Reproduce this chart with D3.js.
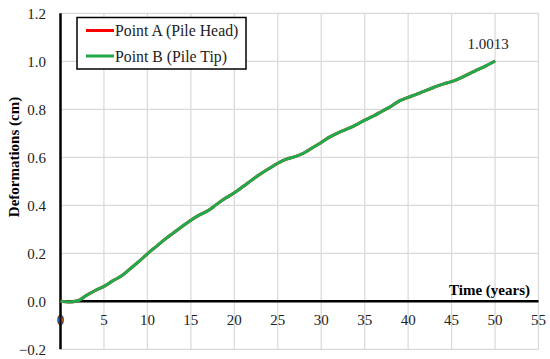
<!DOCTYPE html>
<html>
<head>
<meta charset="utf-8">
<script src="https://cdn.jsdelivr.net/npm/d3@7"></script>
<style>
  body { margin: 0; background: #fff; }
  svg text { font-family: "Liberation Serif", "Times New Roman", serif; }
</style>
</head>
<body>
<div id="chart"></div>
<script>
// Time in years
let years = d3.range(0, 51);

// Deformation (cm) - Point B (pile tip)
let pointB = [0, -0.003, 0.002, 0.025, 0.045, 0.062, 0.085, 0.105, 0.135, 0.165,
    0.198, 0.228, 0.258, 0.285, 0.312, 0.338, 0.36, 0.378, 0.405, 0.43,
    0.452, 0.478, 0.505, 0.53, 0.553, 0.575, 0.592, 0.603, 0.618, 0.64,
    0.662, 0.685, 0.703, 0.718, 0.735, 0.755, 0.772, 0.792, 0.812, 0.835,
    0.85, 0.863, 0.878, 0.892, 0.905, 0.915, 0.93, 0.948, 0.965, 0.982, 1.0013];

// Point A (pile head) sits right under Point B
let pointA = pointB.slice();

let xTicks = [0, 5, 10, 15, 20, 25, 30, 35, 40, 45, 50, 55];
let yTicks = [-0.2, 0.0, 0.2, 0.4, 0.6, 0.8, 1.0, 1.2];
let seriesNames = ["Point A (Pile Head)", "Point B (Pile Tip)"];
let seriesColors = ["#ff0000", "#1faa4b"];
let endLabel = "1.0013";

let width = 550, height = 359;

let x = d3.scaleLinear().domain([0, 55]).range([60.5, 538.5]);
let y = d3.scaleLinear().domain([-0.2, 1.2]).range([349.3, 13.3]);

let svg = d3.select("#chart").append("svg")
    .attr("width", width)
    .attr("height", height);

// Gridlines
svg.append("g")
    .selectAll("line")
    .data(xTicks.slice(1))
    .enter().append("line")
    .attr("x1", d => x(d)).attr("x2", d => x(d))
    .attr("y1", y(1.2)).attr("y2", y(-0.2))
    .attr("stroke", "#d9d9d9").attr("stroke-width", 1.2);

svg.append("g")
    .selectAll("line")
    .data(yTicks)
    .enter().append("line")
    .attr("x1", x(0)).attr("x2", x(55))
    .attr("y1", d => y(d)).attr("y2", d => y(d))
    .attr("stroke", "#d9d9d9").attr("stroke-width", 1.2);

// Y axis labels
svg.append("g")
    .selectAll("text")
    .data(yTicks)
    .enter().append("text")
    .attr("x", 46)
    .attr("y", d => y(d))
    .attr("dy", "0.35em")
    .attr("text-anchor", "end")
    .attr("font-size", 15)
    .attr("fill", "#222")
    .text(d => d < 0 ? "\u22120.2" : d.toFixed(1));

// X axis labels
svg.append("g")
    .selectAll("text")
    .data(xTicks)
    .enter().append("text")
    .attr("x", d => x(d))
    .attr("y", y(0) + 24)
    .attr("text-anchor", "middle")
    .attr("font-size", 15)
    .attr("fill", "#222")
    .text(d => d);

// Axis lines
svg.append("line")
    .attr("x1", x(0)).attr("x2", x(0))
    .attr("y1", y(1.2)).attr("y2", y(-0.2))
    .attr("stroke", "#000").attr("stroke-width", 2.5);

svg.append("line")
    .attr("x1", x(0)).attr("x2", x(55))
    .attr("y1", y(0)).attr("y2", y(0))
    .attr("stroke", "#000").attr("stroke-width", 2.5);

// Series
let line = d3.line()
    .x((d, i) => x(years[i]))
    .y(d => y(d))
    .curve(d3.curveMonotoneX);

[pointA, pointB].forEach(function(s, i) {
    svg.append("path")
        .datum(s)
        .attr("fill", "none")
        .attr("stroke", seriesColors[i])
        .attr("stroke-width", 3)
        .attr("stroke-linejoin", "round")
        .attr("d", line);
});

// End value label
svg.append("text")
    .attr("x", x(50) - 7)
    .attr("y", y(pointB[50]) - 12)
    .attr("text-anchor", "middle")
    .attr("font-size", 15)
    .attr("fill", "#222")
    .text(endLabel);

// Axis titles
svg.append("text")
    .attr("transform", "translate(18.5,157) rotate(-90)")
    .attr("text-anchor", "middle")
    .attr("font-size", 15)
    .attr("font-weight", "bold")
    .text("Deformations (cm)");

svg.append("text")
    .attr("x", 530)
    .attr("y", y(0) - 6)
    .attr("text-anchor", "end")
    .attr("font-size", 15)
    .attr("font-weight", "bold")
    .text("Time (years)");

// Legend
let legend = svg.append("g");
legend.append("rect")
    .attr("x", 77).attr("y", 17.5)
    .attr("width", 169).attr("height", 51.5)
    .attr("fill", "#fff")
    .attr("stroke", "#000").attr("stroke-width", 1.5);

seriesNames.forEach(function(name, i) {
    let ly = 30.5 + i * 25.5;
    legend.append("line")
        .attr("x1", 86).attr("x2", 114)
        .attr("y1", ly).attr("y2", ly)
        .attr("stroke", seriesColors[i]).attr("stroke-width", 3);
    legend.append("text")
        .attr("x", 115)
        .attr("y", ly)
        .attr("dy", "0.35em")
        .attr("font-size", 15.8)
        .attr("fill", "#222")
        .text(name);
});
</script>
</body>
</html>
